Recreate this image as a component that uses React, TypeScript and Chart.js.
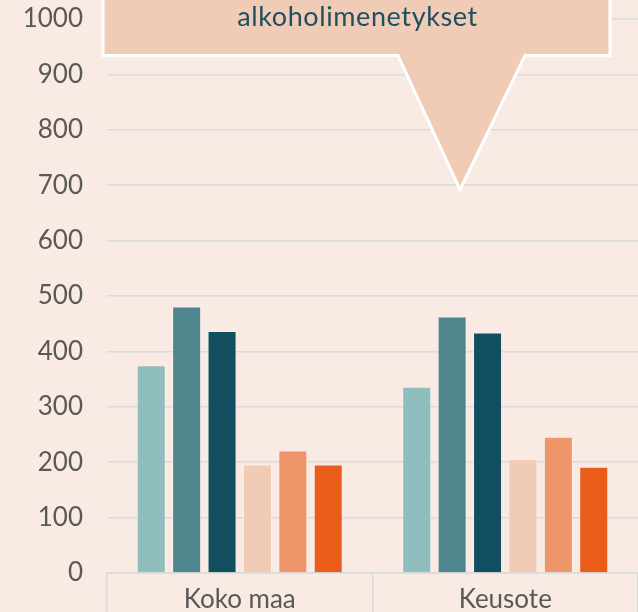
import React, { useEffect, useRef } from "react";
import { Chart, registerables } from "chart.js";

Chart.register(...registerables);

const categories = ["Koko maa", "Keusote"];
const seriesNames = ["Sarja 1", "Sarja 2", "Sarja 3", "Sarja 4", "Sarja 5", "Sarja 6"];
const series1 = [375, 336];
const series2 = [481, 463];
const series3 = [437, 434];
const series4 = [196, 206];
const series5 = [221, 246];
const series6 = [196, 192];
const seriesColors = ["#8FBEBD", "#4F868E", "#114F60", "#F0CBB6", "#EE956A", "#EA5C19"];
const yTicks = [0, 100, 200, 300, 400, 500, 600, 700, 800, 900, 1000];
const calloutText = "alkoholimenetykset";

const calloutPlugin = {
  id: "callout",
  afterDraw(chart: any) {
    const { ctx, chartArea, scales } = chart;
    const y = scales.y;
    const left = chartArea.left - 4;
    const right = chartArea.left + 503;
    const bottom = y.getPixelForValue(934);
    const apexY = y.getPixelForValue(692);
    const apexX = chartArea.left + 353;
    const triL = chartArea.left + 291;
    const triR = chartArea.left + 418;
    ctx.save();
    ctx.beginPath();
    ctx.moveTo(left, -10);
    ctx.lineTo(left, bottom);
    ctx.lineTo(triL, bottom);
    ctx.lineTo(apexX, apexY);
    ctx.lineTo(triR, bottom);
    ctx.lineTo(right, bottom);
    ctx.lineTo(right, -10);
    ctx.closePath();
    ctx.fillStyle = "#F0CBB6";
    ctx.fill();
    ctx.lineWidth = 3;
    ctx.strokeStyle = "#FFFFFF";
    ctx.lineJoin = "miter";
    ctx.stroke();
    ctx.fillStyle = "#1F4E5F";
    ctx.font = "27px Lato";
    try {
      (ctx as any).letterSpacing = "0.6px";
    } catch (e) {}
    ctx.textAlign = "center";
    ctx.textBaseline = "alphabetic";
    ctx.fillText(calloutText, (left + right) / 2 + 1, 26);
    ctx.restore();
  },
};

const bgPlugin = {
  id: "bg",
  beforeDraw(chart: any) {
    const { ctx, width, height } = chart;
    ctx.save();
    ctx.fillStyle = "#F9EAE3";
    ctx.fillRect(0, 0, width, height);
    ctx.restore();
  },
};

export default function App() {
  const ref = useRef<HTMLCanvasElement | null>(null);
  useEffect(() => {
    if (!ref.current) return;
    const values = [series1, series2, series3, series4, series5, series6];
    const chart = new Chart(ref.current, {
      type: "bar",
      data: {
        labels: categories,
        datasets: values.map((v, i) => ({
          label: seriesNames[i],
          data: v,
          backgroundColor: seriesColors[i],
          borderColor: "rgba(255,255,255,0.35)",
          borderWidth: 1,
          categoryPercentage: 0.8,
          barPercentage: 0.82,
        })),
      },
      options: {
        responsive: false,
        animation: false,
        devicePixelRatio: 1,
        layout: { padding: { top: 19, left: 0, right: 0, bottom: 0 } },
        plugins: { legend: { display: false }, tooltip: { enabled: false } },
        scales: {
          y: {
            min: 0,
            max: 1000,
            afterFit(scale: any) {
              scale.width = 107;
              scale.paddingTop = 0;
              scale.paddingBottom = 0;
            },
            afterBuildTicks(scale: any) {
              scale.ticks = yTicks.map((v) => ({ value: v }));
            },
            border: { display: false },
            grid: { color: "#D9DCDC", lineWidth: 1.5, drawTicks: false },
            ticks: {
              color: "#595959",
              font: { family: "Lato", size: 26 },
              padding: 24,
              callback: (v: any) => String(v),
            },
          },
          x: {
            afterFit(scale: any) {
              scale.height = 39;
            },
            border: { display: true, color: "#D9D9D9", width: 1.5 },
            grid: {
              drawOnChartArea: false,
              drawTicks: true,
              tickLength: 39,
              color: "#D9D9D9",
              lineWidth: 1.5,
              offset: true,
            },
            ticks: {
              color: "#595959",
              font: { family: "Lato", size: 26 },
              padding: -28,
            },
          },
        },
      },
      plugins: [bgPlugin, calloutPlugin],
    });
    return () => chart.destroy();
  }, []);
  return (
    <div style={{ position: "fixed", left: 0, top: 0, width: 638, height: 612, background: "#F9EAE3" }}>
      <canvas ref={ref} width={638} height={612} style={{ display: "block" }} />
    </div>
  );
}
